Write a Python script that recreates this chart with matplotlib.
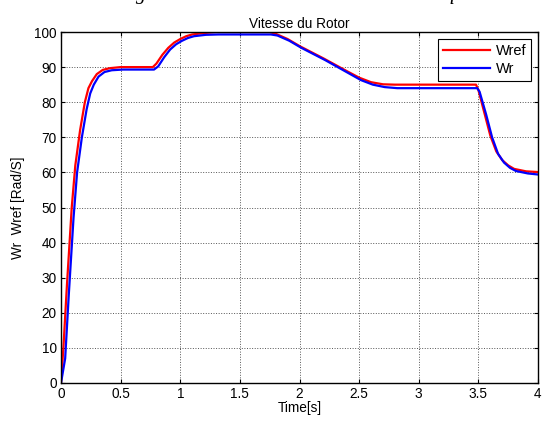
import matplotlib
matplotlib.use("Agg")
import matplotlib.pyplot as plt
import numpy as np

plt.rcParams['font.family'] = ['Liberation Sans', 'DejaVu Sans']

# Data
t_ref = [0, 0.02, 0.05, 0.09, 0.12, 0.16, 0.2, 0.23, 0.26, 0.3, 0.35, 0.41, 0.5,
         0.77, 0.8, 0.85, 0.9, 0.95, 1.0, 1.05, 1.1, 1.2, 1.3,
         1.75, 1.8, 1.9, 2.0, 2.2, 2.4, 2.5, 2.6, 2.7, 2.8,
         3.48, 3.5, 3.55, 3.6, 3.65, 3.7, 3.75, 3.8, 3.9, 4.0]
w_ref = [0, 10, 28, 50, 62, 72, 80, 84, 86, 88, 89.2, 89.7, 90,
         90, 91, 93.5, 95.5, 97, 98, 98.8, 99.3, 99.7, 100,
         100, 99.5, 98, 96, 92.5, 88.8, 87, 85.7, 85.1, 85,
         85, 83.5, 77, 70.5, 66, 63.5, 62, 61, 60.3, 60.1]

t_r = [0, 0.035, 0.065, 0.105, 0.135, 0.175, 0.215, 0.245, 0.275, 0.315, 0.365, 0.425, 0.52,
       0.78, 0.815, 0.865, 0.915, 0.965, 1.015, 1.065, 1.115, 1.215, 1.32,
       1.76, 1.815, 1.915, 2.015, 2.215, 2.415, 2.515, 2.615, 2.715, 2.82,
       3.49, 3.51, 3.565, 3.615, 3.665, 3.715, 3.765, 3.815, 3.915, 4.0]
w_r = [0, 7, 25, 47, 60, 70, 78, 82.5, 85, 87.3, 88.6, 89.1, 89.3,
       89.3, 90.2, 92.8, 95, 96.5, 97.5, 98.3, 98.8, 99.2, 99.3,
       99.3, 99.0, 97.5, 95.5, 92, 88.2, 86.3, 85, 84.3, 84,
       84, 83, 76.5, 70, 65.3, 62.8, 61.3, 60.4, 59.7, 59.4]

xticks = [0, 0.5, 1, 1.5, 2, 2.5, 3, 3.5, 4]
xticklabels = ['0', '0.5', '1', '1.5', '2', '2.5', '3', '3.5', '4']
yticks = list(range(0, 101, 10))

fig = plt.figure(figsize=(5.42, 4.22), dpi=100)
ax = fig.add_axes([61/542, 1-383/422, (538-61)/542, (383-32)/422])

ax.plot(t_ref, w_ref, color='#ff0000', lw=1.6, label='Wref')
ax.plot(t_r, w_r, color='#0000ff', lw=1.6, label='Wr')

ax.set_xlim(0, 4)
ax.set_ylim(0, 100)
ax.set_xticks(xticks)
ax.set_xticklabels(xticklabels)
ax.set_yticks(yticks)
ax.tick_params(direction='in', top=True, right=True, labelsize=9.8, length=3, width=0.8, pad=3)
ax.grid(True, color='#555555', linestyle=':', linewidth=0.7)
for s in ax.spines.values():
    s.set_linewidth(1.0)
    s.set_color('black')

ax.set_title('Vitesse du Rotor', fontsize=9.8, pad=3)
ax.set_xlabel('Time[s]', fontsize=9.8, labelpad=0)
ax.set_ylabel('Wr  Wref [Rad/S]', fontsize=9.8, labelpad=7)

leg = ax.legend(loc='upper right', fontsize=10.5, fancybox=False, framealpha=1,
                edgecolor='black', borderpad=0.35, handlelength=3.2, handletextpad=0.4,
                labelspacing=0.3, borderaxespad=0.45)
leg.get_frame().set_linewidth(0.8)

fig.text(118/542, 1+1.5/422, 'Figure 4.6 : Résultat de la vitesse électrique',
         fontsize=14.5, family=['Liberation Serif', 'DejaVu Serif'], style='italic',
         va='baseline', ha='left')

fig.savefig('out.png', dpi=100)
